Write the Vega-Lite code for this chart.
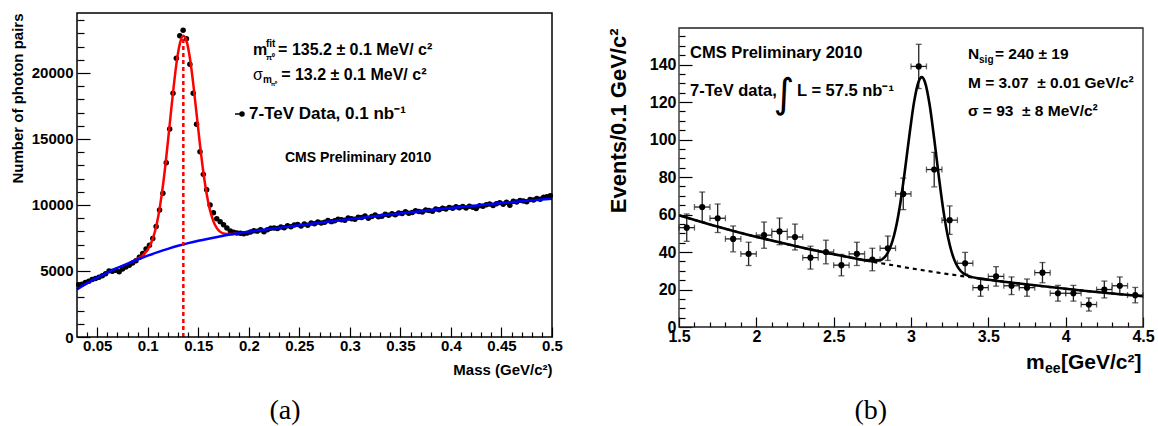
{
  "$schema": "https://vega.github.io/schema/vega-lite/v6.json",
  "background": "white",
  "padding": {"left": 10, "top": 12, "right": 0, "bottom": 0},
  "spacing": 44,
  "config": {
    "font": "Liberation Sans",
    "view": {"stroke": null},
    "axis": {"domain": false, "grid": false, "tickColor": "black", "tickWidth": 1.2, "labelColor": "black", "titleColor": "black", "labelFontWeight": "bold", "titleFontWeight": "bold", "labelFont": "Liberation Sans", "titleFont": "Liberation Sans", "labelOverlap": false, "labelFlush": false, "labelBound": false}
  },
  "datasets": {
    "one": [{}],
    "pi0": [
      {"mass":0.0317,"count":3950},{"mass":0.0350,"count":4000},{"mass":0.0383,"count":4130},{"mass":0.0417,"count":4230},{"mass":0.0450,"count":4350},{"mass":0.0483,"count":4430},{"mass":0.0517,"count":4520},{"mass":0.0550,"count":4640},{"mass":0.0583,"count":4800},{"mass":0.0617,"count":5010},
      {"mass":0.0650,"count":4980},{"mass":0.0683,"count":5050},{"mass":0.0717,"count":4950},{"mass":0.0750,"count":5150},{"mass":0.0783,"count":5300},{"mass":0.0817,"count":5430},{"mass":0.0850,"count":5600},{"mass":0.0883,"count":5780},{"mass":0.0917,"count":6040},{"mass":0.0950,"count":6320},
      {"mass":0.0983,"count":6660},{"mass":0.1017,"count":6960},{"mass":0.1050,"count":7470},{"mass":0.1083,"count":8380},{"mass":0.1117,"count":9620},{"mass":0.1150,"count":10890},{"mass":0.1183,"count":13200},{"mass":0.1217,"count":15760},{"mass":0.1250,"count":18460},{"mass":0.1283,"count":21110},
      {"mass":0.1317,"count":22830},{"mass":0.1350,"count":23230},{"mass":0.1383,"count":22600},{"mass":0.1417,"count":20660},{"mass":0.1450,"count":18460},{"mass":0.1483,"count":16110},{"mass":0.1517,"count":14040},{"mass":0.1550,"count":12320},{"mass":0.1583,"count":11160},{"mass":0.1617,"count":10000},
      {"mass":0.1650,"count":9420},{"mass":0.1683,"count":8960},{"mass":0.1717,"count":8740},{"mass":0.1750,"count":8500},{"mass":0.1783,"count":8250},{"mass":0.1817,"count":8030},{"mass":0.1850,"count":7930},{"mass":0.1883,"count":7880},{"mass":0.1917,"count":7860},{"mass":0.1950,"count":7830},
      {"mass":0.1983,"count":7870},{"mass":0.2017,"count":7960},{"mass":0.2050,"count":8050},{"mass":0.2083,"count":8020},{"mass":0.2117,"count":8130},{"mass":0.2150,"count":7980},{"mass":0.2183,"count":8120},{"mass":0.2217,"count":8230},{"mass":0.2250,"count":8260},{"mass":0.2283,"count":8220},
      {"mass":0.2317,"count":8330},{"mass":0.2350,"count":8280},{"mass":0.2383,"count":8420},{"mass":0.2417,"count":8350},{"mass":0.2450,"count":8480},{"mass":0.2483,"count":8520},{"mass":0.2517,"count":8400},{"mass":0.2550,"count":8560},{"mass":0.2583,"count":8470},{"mass":0.2617,"count":8630},
      {"mass":0.2650,"count":8580},{"mass":0.2683,"count":8710},{"mass":0.2717,"count":8640},{"mass":0.2750,"count":8700},{"mass":0.2783,"count":8820},{"mass":0.2817,"count":8740},{"mass":0.2850,"count":8800},{"mass":0.2883,"count":8930},{"mass":0.2917,"count":8880},{"mass":0.2950,"count":8850},
      {"mass":0.2983,"count":9010},{"mass":0.3017,"count":8960},{"mass":0.3050,"count":8920},{"mass":0.3083,"count":9080},{"mass":0.3117,"count":9050},{"mass":0.3150,"count":9170},{"mass":0.3183,"count":9000},{"mass":0.3217,"count":9120},{"mass":0.3250,"count":9240},{"mass":0.3283,"count":9110},
      {"mass":0.3317,"count":9150},{"mass":0.3350,"count":9300},{"mass":0.3383,"count":9230},{"mass":0.3417,"count":9330},{"mass":0.3450,"count":9260},{"mass":0.3483,"count":9400},{"mass":0.3517,"count":9350},{"mass":0.3550,"count":9480},{"mass":0.3583,"count":9380},{"mass":0.3617,"count":9440},
      {"mass":0.3650,"count":9560},{"mass":0.3683,"count":9500},{"mass":0.3717,"count":9470},{"mass":0.3750,"count":9620},{"mass":0.3783,"count":9580},{"mass":0.3817,"count":9530},{"mass":0.3850,"count":9700},{"mass":0.3883,"count":9640},{"mass":0.3917,"count":9760},{"mass":0.3950,"count":9690},
      {"mass":0.3983,"count":9820},{"mass":0.4017,"count":9750},{"mass":0.4050,"count":9860},{"mass":0.4083,"count":9800},{"mass":0.4117,"count":9880},{"mass":0.4150,"count":9780},{"mass":0.4183,"count":9900},{"mass":0.4217,"count":9820},{"mass":0.4250,"count":9730},{"mass":0.4283,"count":9950},
      {"mass":0.4317,"count":9900},{"mass":0.4350,"count":10020},{"mass":0.4383,"count":10080},{"mass":0.4417,"count":9960},{"mass":0.4450,"count":10100},{"mass":0.4483,"count":10180},{"mass":0.4517,"count":10050},{"mass":0.4550,"count":10200},{"mass":0.4583,"count":9980},{"mass":0.4617,"count":10280},
      {"mass":0.4650,"count":10220},{"mass":0.4683,"count":10350},{"mass":0.4717,"count":10300},{"mass":0.4750,"count":10250},{"mass":0.4783,"count":10420},{"mass":0.4817,"count":10380},{"mass":0.4850,"count":10500},{"mass":0.4883,"count":10440},{"mass":0.4917,"count":10580},{"mass":0.4950,"count":10620},
      {"mass":0.4983,"count":10700}
    ],
    "pi0bg": [
      {"mass":0.03,"count":3600},{"mass":0.04,"count":4080},{"mass":0.05,"count":4500},{"mass":0.06,"count":4880},{"mass":0.07,"count":5230},{"mass":0.08,"count":5560},{"mass":0.09,"count":5870},{"mass":0.10,"count":6160},{"mass":0.11,"count":6430},{"mass":0.12,"count":6680},
      {"mass":0.13,"count":6910},{"mass":0.14,"count":7110},{"mass":0.15,"count":7290},{"mass":0.16,"count":7450},{"mass":0.17,"count":7600},{"mass":0.18,"count":7740},{"mass":0.19,"count":7860},{"mass":0.20,"count":7970},{"mass":0.22,"count":8180},{"mass":0.24,"count":8370},
      {"mass":0.26,"count":8560},{"mass":0.28,"count":8750},{"mass":0.30,"count":8930},{"mass":0.32,"count":9110},{"mass":0.34,"count":9280},{"mass":0.36,"count":9450},{"mass":0.38,"count":9620},{"mass":0.40,"count":9780},{"mass":0.42,"count":9930},{"mass":0.44,"count":10080},
      {"mass":0.46,"count":10220},{"mass":0.48,"count":10350},{"mass":0.50,"count":10480}
    ],
    "pi0fit": [
      {"mass":0.0824,"count":5635},{"mass":0.0890,"count":5875},{"mass":0.0956,"count":6215},{"mass":0.1022,"count":6914},{"mass":0.1055,"count":7568},{"mass":0.1088,"count":8528},{"mass":0.1121,"count":9898},{"mass":0.1154,"count":11690},{"mass":0.1187,"count":13883},{"mass":0.1220,"count":16313},
      {"mass":0.1253,"count":18726},{"mass":0.1286,"count":20824},{"mass":0.1319,"count":22263},{"mass":0.1352,"count":22820},{"mass":0.1385,"count":22403},{"mass":0.1418,"count":21094},{"mass":0.1451,"count":19136},{"mass":0.1484,"count":16843},{"mass":0.1517,"count":14553},{"mass":0.1550,"count":12500},
      {"mass":0.1583,"count":10838},{"mass":0.1616,"count":9608},{"mass":0.1649,"count":8778},{"mass":0.1682,"count":8264},{"mass":0.1715,"count":7980},{"mass":0.1748,"count":7845},{"mass":0.1814,"count":7795},{"mass":0.1880,"count":7845}
    ],
    "jpsi": [
      {"mee":1.55,"events":53,"elo":45.7,"ehi":60.3,"mlo":1.5,"mhi":1.6},
      {"mee":1.65,"events":64,"elo":56.0,"ehi":72.0,"mlo":1.6,"mhi":1.7},
      {"mee":1.75,"events":58,"elo":50.4,"ehi":65.6,"mlo":1.7,"mhi":1.8},
      {"mee":1.85,"events":47,"elo":40.1,"ehi":53.9,"mlo":1.8,"mhi":1.9},
      {"mee":1.95,"events":39,"elo":32.8,"ehi":45.2,"mlo":1.9,"mhi":2.0},
      {"mee":2.05,"events":49,"elo":42.0,"ehi":56.0,"mlo":2.0,"mhi":2.1},
      {"mee":2.15,"events":51,"elo":43.9,"ehi":58.1,"mlo":2.1,"mhi":2.2},
      {"mee":2.25,"events":48,"elo":41.1,"ehi":54.9,"mlo":2.2,"mhi":2.3},
      {"mee":2.35,"events":37,"elo":30.9,"ehi":43.1,"mlo":2.3,"mhi":2.4},
      {"mee":2.45,"events":40,"elo":33.7,"ehi":46.3,"mlo":2.4,"mhi":2.5},
      {"mee":2.55,"events":33,"elo":27.3,"ehi":38.7,"mlo":2.5,"mhi":2.6},
      {"mee":2.65,"events":39,"elo":32.8,"ehi":45.2,"mlo":2.6,"mhi":2.7},
      {"mee":2.75,"events":36,"elo":30.0,"ehi":42.0,"mlo":2.7,"mhi":2.8},
      {"mee":2.85,"events":42,"elo":35.5,"ehi":48.5,"mlo":2.8,"mhi":2.9},
      {"mee":2.95,"events":71,"elo":62.6,"ehi":79.4,"mlo":2.9,"mhi":3.0},
      {"mee":3.05,"events":139,"elo":127.2,"ehi":150.8,"mlo":3.0,"mhi":3.1},
      {"mee":3.15,"events":84,"elo":74.8,"ehi":93.2,"mlo":3.1,"mhi":3.2},
      {"mee":3.25,"events":57,"elo":49.4,"ehi":64.6,"mlo":3.2,"mhi":3.3},
      {"mee":3.35,"events":34,"elo":28.2,"ehi":39.8,"mlo":3.3,"mhi":3.4},
      {"mee":3.45,"events":21,"elo":16.4,"ehi":25.6,"mlo":3.4,"mhi":3.5},
      {"mee":3.55,"events":27,"elo":21.8,"ehi":32.2,"mlo":3.5,"mhi":3.6},
      {"mee":3.65,"events":22,"elo":17.3,"ehi":26.7,"mlo":3.6,"mhi":3.7},
      {"mee":3.75,"events":21,"elo":16.4,"ehi":25.6,"mlo":3.7,"mhi":3.8},
      {"mee":3.85,"events":29,"elo":23.6,"ehi":34.4,"mlo":3.8,"mhi":3.9},
      {"mee":3.95,"events":18,"elo":13.8,"ehi":22.2,"mlo":3.9,"mhi":4.0},
      {"mee":4.05,"events":18,"elo":13.8,"ehi":22.2,"mlo":4.0,"mhi":4.1},
      {"mee":4.15,"events":12,"elo":8.5,"ehi":15.5,"mlo":4.1,"mhi":4.2},
      {"mee":4.25,"events":20,"elo":15.5,"ehi":24.5,"mlo":4.2,"mhi":4.3},
      {"mee":4.35,"events":22,"elo":17.3,"ehi":26.7,"mlo":4.3,"mhi":4.4},
      {"mee":4.45,"events":17,"elo":12.9,"ehi":21.1,"mlo":4.4,"mhi":4.5}
    ],
    "jpsibg": [
      {"mee":1.5,"events":59.6},{"mee":1.6,"events":57.1},{"mee":1.7,"events":54.7},{"mee":1.8,"events":52.4},{"mee":1.9,"events":50.2},{"mee":2.0,"events":48.1},{"mee":2.1,"events":46.1},{"mee":2.2,"events":44.1},{"mee":2.3,"events":42.3},{"mee":2.4,"events":40.5},
      {"mee":2.5,"events":38.8},{"mee":2.6,"events":37.2},{"mee":2.7,"events":35.6},{"mee":2.8,"events":34.1},{"mee":2.9,"events":32.7},{"mee":3.0,"events":31.3},{"mee":3.1,"events":30.0},{"mee":3.2,"events":28.7},{"mee":3.3,"events":27.5},{"mee":3.4,"events":26.4},
      {"mee":3.5,"events":25.2},{"mee":3.6,"events":24.2},{"mee":3.7,"events":23.2},{"mee":3.8,"events":22.2},{"mee":3.9,"events":21.3},{"mee":4.0,"events":20.4},{"mee":4.1,"events":19.5},{"mee":4.2,"events":18.7},{"mee":4.3,"events":17.9},{"mee":4.4,"events":17.1},
      {"mee":4.5,"events":16.4}
    ],
    "jpsifit": [
      {"mee":1.5,"events":59.6},{"mee":1.7,"events":54.7},{"mee":1.9,"events":50.2},{"mee":2.1,"events":46.1},{"mee":2.3,"events":42.3},{"mee":2.5,"events":38.8},{"mee":2.6,"events":37.2},{"mee":2.7,"events":35.6},{"mee":2.75,"events":35.2},{"mee":2.8,"events":35.6},
      {"mee":2.82,"events":36.6},{"mee":2.84,"events":38.3},{"mee":2.86,"events":41.3},{"mee":2.88,"events":45.8},{"mee":2.9,"events":52.1},{"mee":2.93,"events":65.5},{"mee":2.96,"events":83.1},{"mee":2.99,"events":102.5},{"mee":3.02,"events":120.1},{"mee":3.05,"events":131.1},
      {"mee":3.07,"events":133.3},{"mee":3.09,"events":130.7},{"mee":3.12,"events":118.8},{"mee":3.15,"events":100.4},{"mee":3.18,"events":80.2},{"mee":3.21,"events":61.8},{"mee":3.24,"events":47.6},{"mee":3.26,"events":40.8},{"mee":3.28,"events":35.8},{"mee":3.3,"events":32.3},
      {"mee":3.32,"events":30.0},{"mee":3.34,"events":28.5},{"mee":3.38,"events":27.0},{"mee":3.45,"events":25.8},{"mee":3.5,"events":25.2},{"mee":3.7,"events":23.2},{"mee":3.9,"events":21.3},{"mee":4.1,"events":19.5},{"mee":4.3,"events":17.9},{"mee":4.5,"events":16.4}
    ]
  },
  "hconcat": [
    {
      "width": 475,
      "height": 324,
      "layer": [
        {
          "data": {"name": "pi0"},
          "mark": {"type": "point", "filled": true, "shape": "circle", "size": 30, "color": "black", "opacity": 1},
          "encoding": {
            "x": {"field": "mass", "type": "quantitative",
              "scale": {"domain": [0.03, 0.5], "nice": false, "zero": false},
              "axis": {
                "values": [0.04,0.05,0.06,0.07,0.08,0.09,0.1,0.11,0.12,0.13,0.14,0.15,0.16,0.17,0.18,0.19,0.2,0.21,0.22,0.23,0.24,0.25,0.26,0.27,0.28,0.29,0.3,0.31,0.32,0.33,0.34,0.35,0.36,0.37,0.38,0.39,0.4,0.41,0.42,0.43,0.44,0.45,0.46,0.47,0.48,0.49,0.5],
                "tickCount": 500,
                "labelExpr": "abs(datum.value*20 - round(datum.value*20)) < 1e-6 ? format(datum.value, '~g') : ''",
                "tickSize": {"condition": {"test": "abs(datum.value*20 - round(datum.value*20)) < 1e-6", "value": -10}, "value": -5},
                "labelPadding": 11, "labelFontSize": 15, "labelOverlap": false, "labelFlush": false, "labelBound": false,
                "title": "Mass (GeV/c²)", "titleAnchor": "end", "titleFontSize": 15, "titlePadding": 4
              }
            },
            "y": {"field": "count", "type": "quantitative",
              "scale": {"domain": [0, 24545], "nice": false, "zero": false},
              "axis": {
                "values": [0,1000,2000,3000,4000,5000,6000,7000,8000,9000,10000,11000,12000,13000,14000,15000,16000,17000,18000,19000,20000,21000,22000,23000,24000],
                "tickCount": 500,
                "labelExpr": "datum.value % 5000 === 0 ? format(datum.value, 'd') : ''",
                "tickSize": {"condition": {"test": "datum.value % 5000 === 0", "value": -13}, "value": -7},
                "labelPadding": 17, "labelFontSize": 15, "labelOverlap": false, "labelFlush": false, "labelBound": false,
                "title": "Number of photon pairs", "titleAnchor": "end", "titleFontSize": 15, "titlePadding": 6
              }
            }
          }
        },
        {
          "data": {"name": "pi0fit"},
          "mark": {"type": "line", "color": "#ff0000", "strokeWidth": 2.5, "interpolate": "monotone"},
          "encoding": {"x": {"field": "mass", "type": "quantitative"}, "y": {"field": "count", "type": "quantitative"}}
        },
        {
          "data": {"name": "pi0bg"},
          "mark": {"type": "line", "color": "#0000ff", "strokeWidth": 2.5, "interpolate": "monotone"},
          "encoding": {"x": {"field": "mass", "type": "quantitative"}, "y": {"field": "count", "type": "quantitative"}}
        },
        {
          "data": {"name": "one"},
          "mark": {"type": "rule", "color": "#ff0000", "strokeWidth": 2.5, "strokeDash": [4, 3]},
          "encoding": {"x": {"datum": 0.1352}, "y": {"datum": 0}, "y2": {"datum": 22820}}
        },
        {
          "data": {"name": "one"},
          "mark": {"type": "rect", "fill": null, "stroke": "black", "strokeWidth": 1.5},
          "encoding": {"x": {"datum": 0.03}, "x2": {"datum": 0.5}, "y": {"datum": 0}, "y2": {"datum": 24545}}
        },
        {
          "data": {"name": "one"},
          "mark": {"type": "text", "align": "left", "baseline": "middle", "fontSize": 16, "fontWeight": "bold", "text": "m"},
          "encoding": {"x": {"datum": 0.2042}, "y": {"datum": 21742}}
        },
        {
          "data": {"name": "one"},
          "mark": {"type": "text", "align": "left", "baseline": "middle", "fontSize": 10, "fontWeight": "bold", "text": "fit"},
          "encoding": {"x": {"datum": 0.2170}, "y": {"datum": 22197}}
        },
        {
          "data": {"name": "one"},
          "mark": {"type": "text", "align": "left", "baseline": "middle", "fontSize": 8, "fontWeight": "bold", "text": "π⁰"},
          "encoding": {"x": {"datum": 0.2170}, "y": {"datum": 21136}}
        },
        {
          "data": {"name": "one"},
          "mark": {"type": "text", "align": "left", "baseline": "middle", "fontSize": 16, "fontWeight": "bold", "text": "= 135.2 ± 0.1 MeV/ c²"},
          "encoding": {"x": {"datum": 0.2290}, "y": {"datum": 21742}}
        },
        {
          "data": {"name": "one"},
          "mark": {"type": "text", "align": "left", "baseline": "middle", "fontSize": 16, "text": "σ"},
          "encoding": {"x": {"datum": 0.2042}, "y": {"datum": 19848}}
        },
        {
          "data": {"name": "one"},
          "mark": {"type": "text", "align": "left", "baseline": "middle", "fontSize": 10, "fontWeight": "bold", "text": "m"},
          "encoding": {"x": {"datum": 0.2140}, "y": {"datum": 19470}}
        },
        {
          "data": {"name": "one"},
          "mark": {"type": "text", "align": "left", "baseline": "middle", "fontSize": 6, "fontWeight": "bold", "text": "π⁰"},
          "encoding": {"x": {"datum": 0.2218}, "y": {"datum": 19200}}
        },
        {
          "data": {"name": "one"},
          "mark": {"type": "text", "align": "left", "baseline": "middle", "fontSize": 16, "fontWeight": "bold", "text": "= 13.2 ± 0.1 MeV/ c²"},
          "encoding": {"x": {"datum": 0.2320}, "y": {"datum": 19848}}
        },
        {
          "data": {"name": "one"},
          "mark": {"type": "rule", "color": "black", "strokeWidth": 1.5},
          "encoding": {"x": {"datum": 0.1863}, "x2": {"datum": 0.1950}, "y": {"datum": 16894}}
        },
        {
          "data": {"name": "one"},
          "mark": {"type": "point", "filled": true, "shape": "circle", "size": 30, "color": "black", "opacity": 1},
          "encoding": {"x": {"datum": 0.1933}, "y": {"datum": 16894}}
        },
        {
          "data": {"name": "one"},
          "mark": {"type": "text", "align": "left", "baseline": "middle", "fontSize": 17, "fontWeight": "bold", "text": "7-TeV Data, 0.1 nb⁻¹"},
          "encoding": {"x": {"datum": 0.2002}, "y": {"datum": 16894}}
        },
        {
          "data": {"name": "one"},
          "mark": {"type": "text", "align": "left", "baseline": "middle", "fontSize": 14, "fontWeight": "bold", "text": "CMS Preliminary 2010"},
          "encoding": {"x": {"datum": 0.2358}, "y": {"datum": 13561}}
        },
        {
          "data": {"name": "one"},
          "mark": {"type": "text", "align": "center", "baseline": "middle", "fontSize": 28, "font": "Liberation Serif", "text": "(a)"},
          "encoding": {"x": {"datum": 0.2358}, "y": {"datum": -5606}}
        }
      ]
    },
    {
      "width": 464,
      "height": 314,
      "layer": [
        {
          "data": {"name": "jpsibg"},
          "mark": {"type": "line", "color": "black", "strokeWidth": 2.2, "strokeDash": [4, 4]},
          "encoding": {
            "x": {"field": "mee", "type": "quantitative",
              "scale": {"domain": [1.5, 4.5], "nice": false, "zero": false},
              "axis": {
                "values": [1.5,1.6,1.7,1.8,1.9,2.0,2.1,2.2,2.3,2.4,2.5,2.6,2.7,2.8,2.9,3.0,3.1,3.2,3.3,3.4,3.5,3.6,3.7,3.8,3.9,4.0,4.1,4.2,4.3,4.4,4.5],
                "tickCount": 500,
                "labelExpr": "abs(datum.value*2 - round(datum.value*2)) < 1e-6 ? format(datum.value, '~g') : ''",
                "tickSize": {"condition": {"test": "abs(datum.value*2 - round(datum.value*2)) < 1e-6", "value": -10}, "value": -5},
                "labelPadding": 11, "labelFontSize": 16, "labelOverlap": false, "labelFlush": false, "labelBound": false,
                "title": null
              }
            },
            "y": {"field": "events", "type": "quantitative",
              "scale": {"domain": [0, 159.5], "range": [314, 15], "nice": false, "zero": false},
              "axis": {
                "values": [0,5,10,15,20,25,30,35,40,45,50,55,60,65,70,75,80,85,90,95,100,105,110,115,120,125,130,135,140,145,150,155],
                "tickCount": 500,
                "labelExpr": "datum.value % 20 === 0 ? format(datum.value, 'd') : ''",
                "tickSize": {"condition": {"test": "datum.value % 20 === 0", "value": -13}, "value": -6},
                "labelPadding": 16, "labelFontSize": 16, "labelOverlap": false, "labelFlush": false, "labelBound": false,
                "title": "Events/0.1 GeV/c²", "titleAnchor": "end", "titleFontSize": 22, "titlePadding": 19
              }
            }
          }
        },
        {
          "data": {"name": "jpsi"},
          "mark": {"type": "rule", "color": "#222222", "strokeWidth": 1.3},
          "encoding": {"x": {"field": "mee", "type": "quantitative"}, "y": {"field": "elo", "type": "quantitative"}, "y2": {"field": "ehi"}}
        },
        {
          "data": {"name": "jpsi"},
          "mark": {"type": "rule", "color": "#222222", "strokeWidth": 1.3},
          "encoding": {"x": {"field": "mlo", "type": "quantitative"}, "x2": {"field": "mhi"}, "y": {"field": "events", "type": "quantitative"}}
        },
        {
          "data": {"name": "jpsi"},
          "mark": {"type": "tick", "orient": "horizontal", "color": "#222222", "size": 6, "thickness": 1.3},
          "encoding": {"x": {"field": "mee", "type": "quantitative"}, "y": {"field": "ehi", "type": "quantitative"}}
        },
        {
          "data": {"name": "jpsi"},
          "mark": {"type": "tick", "orient": "horizontal", "color": "#222222", "size": 6, "thickness": 1.3},
          "encoding": {"x": {"field": "mee", "type": "quantitative"}, "y": {"field": "elo", "type": "quantitative"}}
        },
        {
          "data": {"name": "jpsi"},
          "mark": {"type": "tick", "orient": "vertical", "color": "#222222", "size": 6, "thickness": 1.3},
          "encoding": {"x": {"field": "mlo", "type": "quantitative"}, "y": {"field": "events", "type": "quantitative"}}
        },
        {
          "data": {"name": "jpsi"},
          "mark": {"type": "tick", "orient": "vertical", "color": "#222222", "size": 6, "thickness": 1.3},
          "encoding": {"x": {"field": "mhi", "type": "quantitative"}, "y": {"field": "events", "type": "quantitative"}}
        },
        {
          "data": {"name": "jpsi"},
          "mark": {"type": "point", "filled": true, "shape": "circle", "size": 38, "color": "black", "opacity": 1},
          "encoding": {"x": {"field": "mee", "type": "quantitative"}, "y": {"field": "events", "type": "quantitative"}}
        },
        {
          "data": {"name": "jpsifit"},
          "mark": {"type": "line", "color": "black", "strokeWidth": 2.6, "interpolate": "monotone"},
          "encoding": {"x": {"field": "mee", "type": "quantitative"}, "y": {"field": "events", "type": "quantitative"}}
        },
        {
          "data": {"name": "one"},
          "mark": {"type": "rect", "fill": null, "stroke": "#222222", "strokeWidth": 1.3},
          "encoding": {"x": {"datum": 1.5}, "x2": {"datum": 4.5}, "y": {"datum": 0}, "y2": {"datum": 159.5}}
        },
        {
          "data": {"name": "one"},
          "mark": {"type": "text", "align": "left", "baseline": "middle", "fontSize": 16.5, "fontWeight": "bold", "text": "CMS Preliminary 2010"},
          "encoding": {"x": {"datum": 1.571}, "y": {"datum": 146.2}}
        },
        {
          "data": {"name": "one"},
          "mark": {"type": "text", "align": "left", "baseline": "middle", "fontSize": 16.5, "fontWeight": "bold", "text": "7-TeV data,"},
          "encoding": {"x": {"datum": 1.571}, "y": {"datum": 125.9}}
        },
        {
          "data": {"name": "one"},
          "mark": {"type": "text", "align": "center", "baseline": "middle", "fontSize": 40, "font": "DejaVu Sans", "text": "∫"},
          "encoding": {"x": {"datum": 2.178}, "y": {"datum": 124.0}}
        },
        {
          "data": {"name": "one"},
          "mark": {"type": "text", "align": "left", "baseline": "middle", "fontSize": 16.5, "fontWeight": "bold", "text": "L = 57.5 nb⁻¹"},
          "encoding": {"x": {"datum": 2.263}, "y": {"datum": 125.9}}
        },
        {
          "data": {"name": "one"},
          "mark": {"type": "text", "align": "left", "baseline": "middle", "fontSize": 15.5, "fontWeight": "bold", "text": "N"},
          "encoding": {"x": {"datum": 3.368}, "y": {"datum": 145.5}}
        },
        {
          "data": {"name": "one"},
          "mark": {"type": "text", "align": "left", "baseline": "middle", "fontSize": 10, "fontWeight": "bold", "text": "sig"},
          "encoding": {"x": {"datum": 3.440}, "y": {"datum": 142.3}}
        },
        {
          "data": {"name": "one"},
          "mark": {"type": "text", "align": "left", "baseline": "middle", "fontSize": 15.5, "fontWeight": "bold", "text": "= 240 ± 19"},
          "encoding": {"x": {"datum": 3.543}, "y": {"datum": 145.5}}
        },
        {
          "data": {"name": "one"},
          "mark": {"type": "text", "align": "left", "baseline": "middle", "fontSize": 15.5, "fontWeight": "bold", "text": "M = 3.07\u00a0 ± 0.01 GeV/c²"},
          "encoding": {"x": {"datum": 3.368}, "y": {"datum": 130.3}}
        },
        {
          "data": {"name": "one"},
          "mark": {"type": "text", "align": "left", "baseline": "middle", "fontSize": 15.5, "fontWeight": "bold", "text": "σ = 93\u00a0 ± 8 MeV/c²"},
          "encoding": {"x": {"datum": 3.368}, "y": {"datum": 115.2}}
        },
        {
          "data": {"name": "one"},
          "mark": {"type": "text", "align": "left", "baseline": "middle", "fontSize": 21, "fontWeight": "bold", "text": "m"},
          "encoding": {"x": {"datum": 3.7435}, "y": {"datum": -19.2}}
        },
        {
          "data": {"name": "one"},
          "mark": {"type": "text", "align": "left", "baseline": "middle", "fontSize": 14, "fontWeight": "bold", "text": "ee"},
          "encoding": {"x": {"datum": 3.866}, "y": {"datum": -22.4}}
        },
        {
          "data": {"name": "one"},
          "mark": {"type": "text", "align": "left", "baseline": "middle", "fontSize": 21, "fontWeight": "bold", "text": "[GeV/c²]"},
          "encoding": {"x": {"datum": 3.970}, "y": {"datum": -19.2}}
        },
        {
          "data": {"name": "one"},
          "mark": {"type": "text", "align": "center", "baseline": "middle", "fontSize": 28, "font": "Liberation Serif", "text": "(b)"},
          "encoding": {"x": {"datum": 2.74}, "y": {"datum": -44.8}}
        }
      ]
    }
  ]
}
